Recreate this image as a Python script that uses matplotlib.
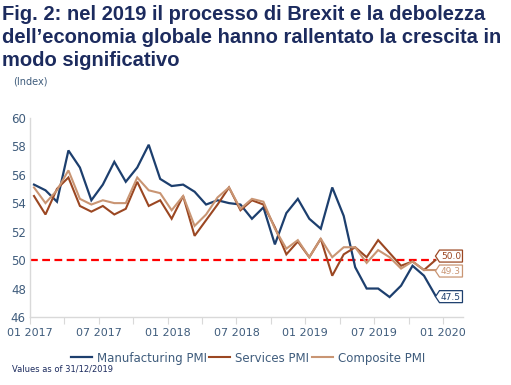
"""UK PMI chart: manufacturing, services and composite, 2017-2019."""

import matplotlib
matplotlib.use("Agg")
import matplotlib.pyplot as plt
import matplotlib.transforms as mtransforms
from matplotlib.patches import Polygon
import numpy as np

# Monthly data, Jan 2017 - Dec 2019
manufacturing = [55.3, 54.9, 54.1, 57.7, 56.5, 54.2, 55.3, 56.9, 55.5, 56.5, 58.1, 55.7,
                 55.2, 55.3, 54.8, 53.9, 54.2, 54.0, 53.9, 52.9, 53.7, 51.1, 53.3, 54.3,
                 52.9, 52.2, 55.1, 53.1, 49.5, 48.0, 48.0, 47.4, 48.2, 49.6, 48.9, 47.5]
services = [54.5, 53.2, 55.0, 55.8, 53.8, 53.4, 53.8, 53.2, 53.6, 55.5, 53.8, 54.2,
            52.9, 54.5, 51.7, 52.8, 53.9, 55.1, 53.5, 54.2, 53.9, 52.3, 50.4, 51.3,
            50.2, 51.5, 48.9, 50.4, 50.9, 50.2, 51.4, 50.5, 49.6, 49.9, 49.3, 50.0]
composite = [55.1, 54.0, 54.9, 56.3, 54.3, 53.9, 54.2, 54.0, 54.0, 55.8, 54.9, 54.7,
             53.5, 54.5, 52.4, 53.2, 54.4, 55.1, 53.6, 54.3, 54.1, 52.2, 50.8, 51.4,
             50.2, 51.5, 50.2, 50.9, 50.9, 49.8, 50.7, 50.2, 49.4, 49.9, 49.3, 49.3]
series_names = ["Manufacturing PMI", "Services PMI", "Composite PMI"]
tick_labels = ["01 2017", "", "07 2017", "", "01 2018", "", "07 2018", "",
               "01 2019", "", "07 2019", "", "01 2020"]
threshold = 50

navy = "#1d3f6e"
rust = "#9b4722"
tan = "#c99573"
text_col = "#3f5c7c"
title_col = "#1c2b5e"

months = np.arange(len(manufacturing)) + 0.35

fig = plt.figure(figsize=(5.11, 3.85), dpi=100)
ax = fig.add_axes([30 / 511, 68 / 385, 433 / 511, 199.3 / 385])

series = [(manufacturing, navy, 1.6), (services, rust, 1.5), (composite, tan, 1.5)]
for (vals, col, lw), name in zip(series, series_names):
    ax.plot(months, vals, color=col, lw=lw, label=name, solid_joinstyle="miter")

ax.hlines(threshold, 0, months[-1], colors="#ff0000", lw=1.6,
          linestyles=(0, (3.5, 2)), zorder=1)

# end-value tags
tag_offsets = {0: -1, 1: 4, 2: -1}
for k, (vals, col, lw) in enumerate(series):
    tr = fig.dpi_scale_trans + mtransforms.ScaledTranslation(
        months[-1], vals[-1], ax.transData)
    dy = tag_offsets[k] / 100
    verts = np.array([[0, 0], [0.04, 0.06], [0.27, 0.06], [0.27, -0.06], [0.04, -0.06]])
    verts[:, 1] += dy
    ax.add_patch(Polygon(verts, closed=True, transform=tr, facecolor="white",
                         edgecolor=col, lw=0.9, clip_on=False, zorder=5))
    ax.text(0.155, dy - 0.005, f"{vals[-1]:.1f}", transform=tr, color=col,
            fontsize=6.5, ha="center", va="center", zorder=6)

ax.set_xlim(0, 37.75)
ax.set_ylim(46, 60)
ax.set_yticks(np.arange(46, 61, 2))
ax.set_xticks(np.arange(0, 37, 3))
ax.set_xticklabels(tick_labels)
ax.tick_params(axis="y", length=0, pad=3, labelsize=8.5, labelcolor=text_col)
ax.tick_params(axis="x", length=5, width=0.8, color="#d9d9d9", pad=3,
               labelsize=8, labelcolor=text_col)
for s in ["top", "right"]:
    ax.spines[s].set_visible(False)
for s in ["left", "bottom"]:
    ax.spines[s].set_color("#d9d9d9")
    ax.spines[s].set_linewidth(1)

leg = fig.legend(loc="center", bbox_to_anchor=(0.485, 0.07), ncol=3, frameon=False,
                 fontsize=8.5, handlelength=1.8, handletextpad=0.4, columnspacing=0.2)
for t in leg.get_texts():
    t.set_color(text_col)

title_lines = ["Fig. 2: nel 2019 il processo di Brexit e la debolezza",
               "dell\u2019economia globale hanno rallentato la crescita in",
               "modo significativo"]
for i, line in enumerate(title_lines):
    fig.text(2 / 511, 1 - (20 + 23 * i) / 385, line, family="Liberation Sans",
             weight="bold", fontsize=14.5, color=title_col, va="baseline")

fig.text(13 / 511, 1 - 82 / 385, "(Index)", fontsize=7, color=text_col, va="center")
fig.text(12 / 511, 1 - 369 / 385, "Values as of 31/12/2019", fontsize=6,
         color=title_col, va="center")

fig.savefig("out.png", dpi=100)
